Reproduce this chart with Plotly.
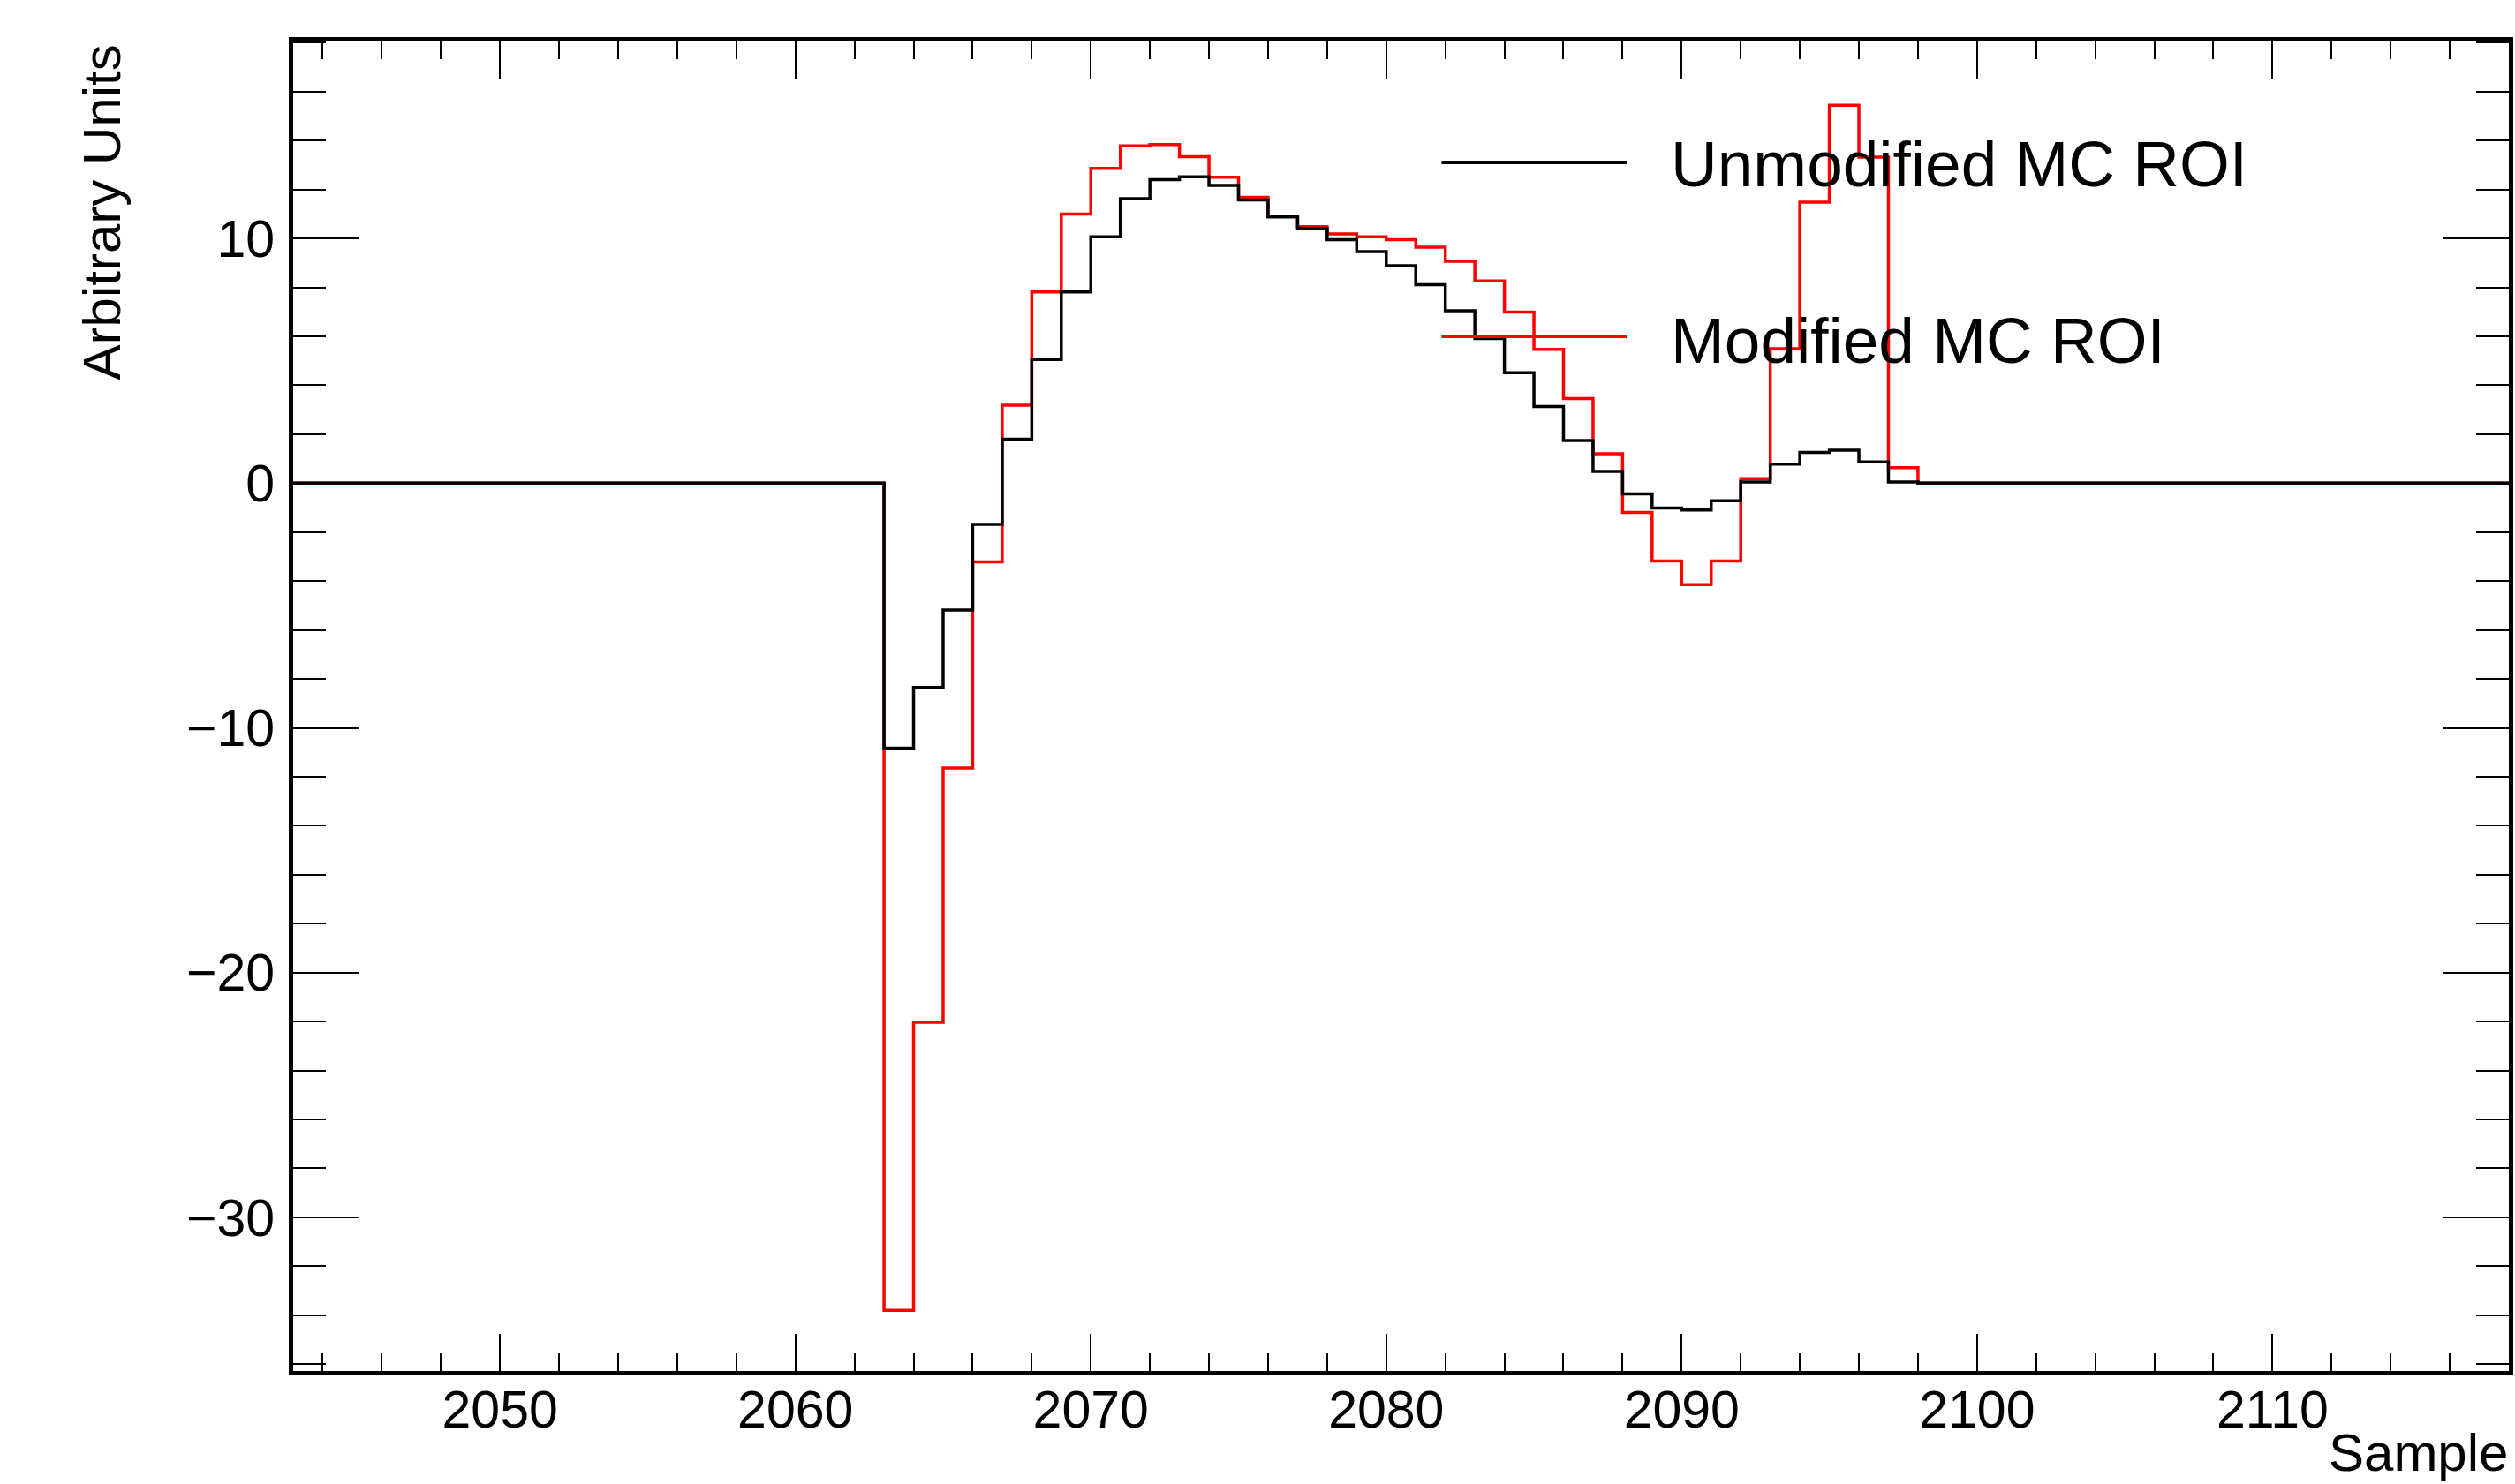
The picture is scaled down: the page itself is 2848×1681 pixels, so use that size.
import plotly.graph_objects as go

# ---- data ----
x_low, x_high = 2043, 2118          # histogram range (bin edges, 1 sample per bin)
roi_start = 2063                    # first non-zero bin

unmodified_roi = [-10.83, -8.35, -5.18, -1.68, 1.80, 5.05, 7.81, 10.07, 11.63, 12.40,
                  12.52, 12.17, 11.57, 10.88, 10.40, 9.95, 9.46, 8.89, 8.11, 7.05,
                  5.91, 4.51, 3.13, 1.74, 0.48, -0.44, -1.02, -1.10, -0.72, 0.05,
                  0.78, 1.26, 1.35, 0.87, 0.05]
modified_roi = [-33.80, -22.03, -11.64, -3.22, 3.19, 7.81, 11.00, 12.86, 13.78, 13.84,
                13.34, 12.50, 11.68, 10.90, 10.48, 10.19, 10.07, 9.95, 9.64, 9.07,
                8.26, 6.99, 5.47, 3.46, 1.20, -1.20, -3.18, -4.15, -3.18, 0.18,
                5.50, 11.48, 15.44, 13.32, 0.63]

legend_labels = ["Unmodified MC ROI", "Modified MC ROI"]
x_title = "Sample"
y_title = "Arbitrary Units"

# full histogram contents (zero outside the ROI)
edges = list(range(x_low, x_high + 1))
def full_hist(roi):
    vals = [0.0] * (x_high - x_low)
    for i, v in enumerate(roi):
        vals[roi_start - x_low + i] = v
    return vals

h_unmod = full_hist(unmodified_roi)
h_mod = full_hist(modified_roi)

# ---- geometry of the page (page margin removed by post_script below) ----
W, H = 2848, 1681
ML, MR, MT, MB = 332, 2, 47, 128
PW, PH = W - ML - MR, H - MT - MB

def px(xpage):
    return (xpage - ML) / PW

def py(ypage):
    return (H - MB - ypage) / PH

FONT = "Liberation Sans, Arial, Helvetica, sans-serif"

fig = go.Figure()
fig.add_trace(go.Scatter(x=edges, y=h_mod + [h_mod[-1]], mode="lines",
                         line=dict(color="#ff0000", width=3.5, shape="hv"),
                         name=legend_labels[1], showlegend=False))
fig.add_trace(go.Scatter(x=edges, y=h_unmod + [h_unmod[-1]], mode="lines",
                         line=dict(color="#000000", width=3.5, shape="hv"),
                         name=legend_labels[0], showlegend=False))

axis_common = dict(showgrid=False, zeroline=False, showline=True, linecolor="black",
                   linewidth=5, mirror="ticks", ticks="inside", tickcolor="black",
                   tickwidth=2, tickfont=dict(family=FONT, size=59, color="black"))

fig.update_xaxes(range=[x_low, x_high], dtick=10, tick0=2050, ticklen=42,
                 minor=dict(dtick=2, tick0=2050, ticklen=20, tickwidth=2,
                            ticks="inside", tickcolor="black", showgrid=False),
                 ticklabelstandoff=-12, **axis_common)
fig.update_yaxes(range=[-36.28, 18.05], dtick=10, tick0=0, ticklen=75,
                 minor=dict(dtick=2, tick0=0, ticklen=37, tickwidth=2,
                            ticks="inside", tickcolor="black", showgrid=False),
                 ticklabelstandoff=4, **axis_common)

# legend drawn as in the ROOT canvas (long line samples)
legend_rows = [(184, 185, "#000000"), (381, 385, "#ff0000")]
for (ly, ty, col), lab in zip(legend_rows, legend_labels):
    fig.add_shape(type="line", xref="paper", yref="paper",
                  x0=px(1635), x1=px(1845), y0=py(ly), y1=py(ly),
                  line=dict(color=col, width=4))
    fig.add_annotation(xref="paper", yref="paper", x=px(1893), y=py(ty),
                       xanchor="left", yanchor="middle", showarrow=False,
                       text=lab, font=dict(family=FONT, size=73, color="black"))

# axis titles (ROOT style: aligned to the axis end)
fig.add_annotation(xref="paper", yref="paper", x=px(115), y=py(48),
                   xanchor="center", yanchor="top", showarrow=False, textangle=-90,
                   text=y_title, font=dict(family=FONT, size=60, color="black"))
fig.add_annotation(xref="paper", yref="paper", x=px(2847), y=py(1610),
                   xanchor="right", yanchor="top", showarrow=False,
                   text=x_title, font=dict(family=FONT, size=60, color="black"))

fig.update_layout(width=W, height=H, margin=dict(l=ML, r=MR, t=MT, b=MB),
                  paper_bgcolor="white", plot_bgcolor="white", showlegend=False)

fig.write_html("out.html",
               config={"displayModeBar": False},
               post_script="document.body.style.margin='0px';"
                           "document.body.style.overflow='hidden';")
